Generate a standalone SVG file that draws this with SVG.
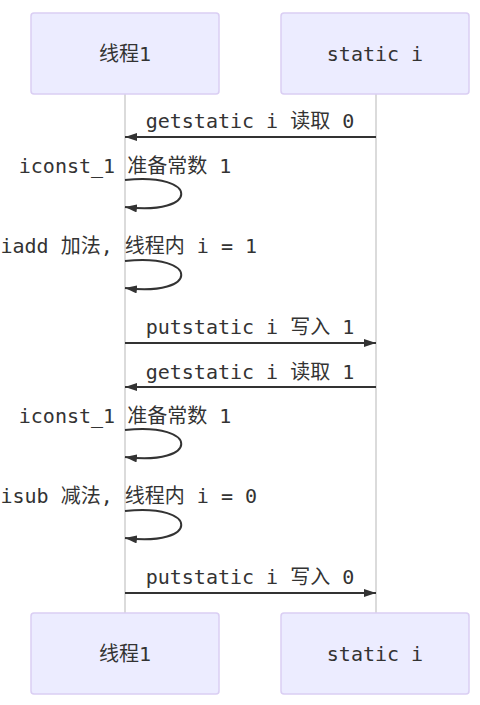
<svg xmlns="http://www.w3.org/2000/svg" width="480" height="705" viewBox="0 0 480 705">
<style>
.actor{fill:#ECECFF;stroke:#DACEF3;stroke-width:1.5}
.lbl{font-family:"DejaVu Sans Mono","Noto Sans CJK SC",monospace;font-size:20px;fill:#333;text-anchor:middle}
.lbl.edge{text-anchor:start}
.life{stroke:#cfcfcf;stroke-width:1.5}
.msg{stroke:#333;stroke-width:2;fill:none;marker-end:url(#arrow)}
</style>
<defs>
<marker id="arrow" markerUnits="userSpaceOnUse" viewBox="0 0 12 8" markerWidth="12" markerHeight="8" refX="12" refY="4" orient="auto">
<path d="M0,0 L12,4 L0,8 z" fill="#333"/>
</marker>
</defs>
<rect width="480" height="705" fill="#fff"/>
<g id="lifelines">
<line class="life" x1="125" y1="94" x2="125" y2="613"/>
<line class="life" x1="376" y1="94" x2="376" y2="613"/>
</g>
<g id="actor-thread-top">
<rect class="actor" x="31" y="13" width="188" height="81" rx="3"/>
<text class="lbl" x="125" y="61">线程1</text>
</g>
<g id="actor-static-top">
<rect class="actor" x="281" y="13" width="188" height="81" rx="3"/>
<text class="lbl" x="375" y="61">static i</text>
</g>
<g id="actor-thread-bottom">
<rect class="actor" x="31" y="613" width="188" height="81" rx="3"/>
<text class="lbl" x="125" y="661">线程1</text>
</g>
<g id="actor-static-bottom">
<rect class="actor" x="281" y="613" width="188" height="81" rx="3"/>
<text class="lbl" x="375" y="661">static i</text>
</g>
<g id="connectors">
<line class="msg" x1="376" y1="137" x2="125" y2="137"/>
<text class="lbl" x="250" y="128">getstatic i 读取 0</text>
<path class="msg" d="M125,180 C200,172 200,216 125,207"/>
<text class="lbl" x="125" y="173">iconst_1 准备常数 1</text>
<path class="msg" d="M125,261 C200,253 200,297 125,288"/>
<text class="lbl edge" x="0.5" y="253">iadd 加法, 线程内 i = 1</text>
<line class="msg" x1="125" y1="343" x2="376" y2="343"/>
<text class="lbl" x="250" y="334">putstatic i 写入 1</text>
<line class="msg" x1="376" y1="387" x2="125" y2="387"/>
<text class="lbl" x="250" y="379">getstatic i 读取 1</text>
<path class="msg" d="M125,430 C200,422 200,466 125,457"/>
<text class="lbl" x="125" y="423">iconst_1 准备常数 1</text>
<path class="msg" d="M125,511 C200,503 200,547 125,538"/>
<text class="lbl edge" x="0.5" y="503">isub 减法, 线程内 i = 0</text>
<line class="msg" x1="125" y1="593" x2="376" y2="593"/>
<text class="lbl" x="250" y="584">putstatic i 写入 0</text>
</g>
</svg>
